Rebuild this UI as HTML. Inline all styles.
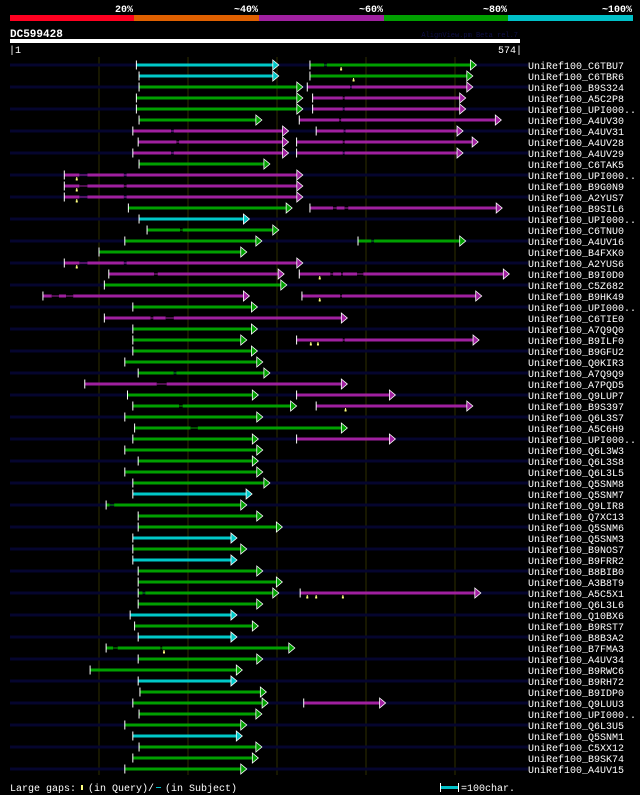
<!DOCTYPE html>
<html><head><meta charset="utf-8"><style>
html,body{margin:0;padding:0;background:#000;}
svg{display:block;}
text{font-family:"Liberation Mono","DejaVu Sans Mono",monospace;}
</style></head><body>
<svg id="chart" width="640" height="795" viewBox="0 0 640 795" xmlns="http://www.w3.org/2000/svg">
<rect x="0" y="0" width="640" height="795" fill="#000"/>
<g>
<rect x="10" y="15" width="124" height="6" fill="#ff0020"/>
<rect x="134" y="15" width="125" height="6" fill="#e06000"/>
<rect x="259" y="15" width="125" height="6" fill="#a020a0"/>
<rect x="384" y="15" width="124" height="6" fill="#00a000"/>
<rect x="508" y="15" width="125" height="6" fill="#00c0c8"/>
<text x="133" y="12" fill="#fff" font-size="10" font-weight="bold" text-anchor="end">20%</text>
<text x="258" y="12" fill="#fff" font-size="10" font-weight="bold" text-anchor="end">~40%</text>
<text x="383" y="12" fill="#fff" font-size="10" font-weight="bold" text-anchor="end">~60%</text>
<text x="507" y="12" fill="#fff" font-size="10" font-weight="bold" text-anchor="end">~80%</text>
<text x="632" y="12" fill="#fff" font-size="10" font-weight="bold" text-anchor="end">~100%</text>
</g>
<text x="10" y="37" fill="#fff" font-size="11" font-weight="bold">DC599428</text>
<text x="518" y="37" fill="#101048" font-size="7" text-anchor="end">AlignView.pm Beta rel.7</text>
<rect x="10" y="39" width="510" height="4" fill="#fff"/>
<text x="9" y="53" fill="#fff" font-size="10">|1</text>
<text x="522" y="53" fill="#fff" font-size="10" text-anchor="end">574|</text>
<g id="grid"></g>
<g id="rows"></g>
<g>
<text x="10" y="791" fill="#fff" font-size="10">Large gaps:</text>
<rect x="81" y="785" width="2" height="5" fill="#ffff80"/>
<text x="88" y="791" fill="#fff" font-size="10">(in Query)/</text>
<rect x="156" y="787" width="5" height="1" fill="#00c0c8"/>
<text x="165" y="791" fill="#fff" font-size="10">(in Subject)</text>
<rect x="441" y="786" width="17" height="3" fill="#00c0c8"/>
<rect x="440" y="783" width="1" height="9" fill="#fff"/>
<rect x="458" y="783" width="1" height="9" fill="#fff"/>
<text x="461" y="791" fill="#fff" font-size="10">=100char.</text>
</g>
</svg>
<script>
const queryLength = 574;
const gridTicks = [100, 200, 300, 400, 500];
const rowNames = ["UniRef100_C6TBU7","UniRef100_C6TBR6","UniRef100_B9S324","UniRef100_A5C2P8","UniRef100_UPI000..","UniRef100_A4UV30","UniRef100_A4UV31","UniRef100_A4UV28","UniRef100_A4UV29","UniRef100_C6TAK5","UniRef100_UPI000..","UniRef100_B9G0N9","UniRef100_A2YUS7","UniRef100_B9SIL6","UniRef100_UPI000..","UniRef100_C6TNU0","UniRef100_A4UV16","UniRef100_B4FXK0","UniRef100_A2YUS6","UniRef100_B9I0D0","UniRef100_C5Z682","UniRef100_B9HK49","UniRef100_UPI000..","UniRef100_C6TIE0","UniRef100_A7Q9Q0","UniRef100_B9ILF0","UniRef100_B9GFU2","UniRef100_Q0KIR3","UniRef100_A7Q9Q9","UniRef100_A7PQD5","UniRef100_Q9LUP7","UniRef100_B9S397","UniRef100_Q6L3S7","UniRef100_A5C6H9","UniRef100_UPI000..","UniRef100_Q6L3W3","UniRef100_Q6L3S8","UniRef100_Q6L3L5","UniRef100_Q5SNM8","UniRef100_Q5SNM7","UniRef100_Q9LIR8","UniRef100_Q7XC13","UniRef100_Q5SNM6","UniRef100_Q5SNM3","UniRef100_B9NOS7","UniRef100_B9FRR2","UniRef100_B8BIB0","UniRef100_A3B8T9","UniRef100_A5C5X1","UniRef100_Q6L3L6","UniRef100_Q10BX6","UniRef100_B9RST7","UniRef100_B8B3A2","UniRef100_B7FMA3","UniRef100_A4UV34","UniRef100_B9RWC6","UniRef100_B9RH72","UniRef100_B9IDP0","UniRef100_Q9LUU3","UniRef100_UPI000..","UniRef100_Q6L3U5","UniRef100_Q5SNM1","UniRef100_C5XX12","UniRef100_B9SK74","UniRef100_A4UV15"];
// hits: [row, start, end, scoreClass]  (c=cyan ~100%, g=green ~80%, p=purple ~60%)
const hits = [
[0,143,303,"c"],[0,338,525,"g"],
[1,146,303,"c"],[1,338,521,"g"],
[2,146,330,"g"],[2,335,521,"p"],
[3,143,330,"g"],[3,341,513,"p"],
[4,143,330,"g"],[4,341,513,"p"],
[5,146,284,"g"],[5,326,553,"p"],
[6,139,314,"p"],[6,345,510,"p"],
[7,145,314,"p"],[7,323,527,"p"],
[8,139,314,"p"],[8,323,510,"p"],
[9,146,293,"g"],
[10,62,330,"p"],[11,62,330,"p"],[12,62,330,"p"],
[13,134,318,"g"],[13,338,554,"p"],
[14,146,270,"c"],
[15,155,303,"g"],
[16,130,284,"g"],[16,392,513,"g"],
[17,101,267,"g"],
[18,62,330,"p"],
[19,112,309,"p"],[19,326,562,"p"],
[20,107,312,"g"],
[21,38,270,"p"],[21,329,531,"p"],
[22,139,279,"g"],
[23,107,380,"p"],
[24,139,279,"g"],
[25,139,267,"g"],[25,323,528,"p"],
[26,139,279,"g"],
[27,130,285,"g"],
[28,145,293,"g"],
[29,85,380,"p"],
[30,133,280,"g"],[30,323,434,"p"],
[31,139,323,"g"],[31,345,521,"p"],
[32,130,285,"g"],
[33,141,380,"g"],
[34,139,280,"g"],[34,323,434,"p"],
[35,130,285,"g"],
[36,145,280,"g"],
[37,130,285,"g"],
[38,139,293,"g"],
[39,139,273,"c"],
[40,109,267,"g"],
[41,145,285,"g"],
[42,145,307,"g"],
[43,139,256,"c"],
[44,139,267,"g"],
[45,139,256,"c"],
[46,145,285,"g"],
[47,145,307,"g"],
[48,145,303,"g"],[48,327,530,"p"],
[49,145,285,"g"],
[50,136,256,"c"],
[51,141,280,"g"],
[52,145,256,"c"],
[53,109,321,"g"],
[54,145,285,"g"],
[55,91,262,"g"],
[56,145,256,"c"],
[57,147,289,"g"],
[58,139,291,"g"],[58,331,423,"p"],
[59,146,284,"g"],
[60,130,267,"g"],
[61,139,262,"c"],
[62,146,284,"g"],
[63,139,280,"g"],
[64,130,267,"g"]
];
// subject gaps: [row, from, to]
const subjectGaps = [
[0,354,357],[2,383,385],[3,375,377],[4,375,377],[5,371,373],
[6,182,185],[6,376,378],[7,188,191],[7,375,377],[8,182,185],[8,375,377],
[10,79,88],[10,129,132],[11,79,88],[11,129,132],[12,79,88],[12,129,132],
[13,364,368],[13,377,381],[15,192,195],[16,407,410],
[18,79,88],[18,129,132],
[19,163,167],[19,361,364],[19,373,375],[19,391,398],
[21,48,56],[21,64,72],[21,372,374],
[23,159,162],[23,176,185],[25,375,377],[28,185,188],[29,166,177],
[31,191,195],[33,204,212],[40,113,118],[48,150,153],
[53,117,122],[53,170,172]
];
// query gaps (yellow markers): [row, position]
const queryGaps = [
[0,373],[1,387],[10,76],[11,76],[12,76],[18,76],[19,349],[21,349],
[25,339],[25,347],[31,378],[48,335],[48,345],[48,375],[53,174]
];
const colorMap = {c:"#00c8c8", g:"#00a000", p:"#a020a0"};

const NS = "http://www.w3.org/2000/svg";
const X0 = 10, X1 = 520, Y0 = 65, ROWH = 11;
function xScale(r){ return X0 + (r - 1) * (X1 - X0) / (queryLength - 1); }
function yRow(i){ return Y0 + i * ROWH; }
function mk(tag, attrs, parent){
  const el = document.createElementNS(NS, tag);
  for (const k in attrs) el.setAttribute(k, attrs[k]);
  parent.appendChild(el);
  return el;
}
const rowsG = document.getElementById("rows");
const gridG = document.getElementById("grid");

// navy background bars for alternating rows
rowNames.forEach(function(n, i){
  if (i % 2 === 0) {
    const bg = mk("rect", {x: X0, y: yRow(i) - 1.5, width: 518, height: 3, fill: "#05052e"}, rowsG);
    
    
  }
});
// grid lines
gridTicks.forEach(function(t){
  const ln = mk("rect", {x: Math.round(xScale(t + 1)) - 0.5, y: 57, width: 1, height: 718, fill: "#2e2e00"}, gridG);
  
  
});
// names
rowNames.forEach(function(n, i){
  const t = mk("text", {x: 528, y: yRow(i) + 4, fill: "#fff", "font-size": 10}, rowsG);
  t.textContent = n;
  
  
});
// hits
hits.forEach(function(h){
  const row = h[0], y = yRow(row), col = colorMap[h[3]];
  const xs = xScale(h[1]), xe = xScale(h[2]);
  const g = mk("g", {}, rowsG);
  
  
  const gaps = subjectGaps.filter(function(s){ return s[0] === row && s[1] >= h[1] && s[2] <= h[2]; })
    .sort(function(a,b){ return a[1]-b[1]; });
  let cur = xs;
  gaps.forEach(function(s){
    const a = xScale(s[1]), b = xScale(s[2]);
    mk("rect", {x: cur, y: y - 1.5, width: Math.max(0, a - cur), height: 3, fill: col}, g);
    mk("rect", {x: a, y: y - 1.5, width: b - a, height: 3, fill: row % 2 === 0 ? "#05052e" : "#000"}, g);
    mk("rect", {x: a, y: y - 0.5, width: b - a, height: 1, fill: col}, g);
    cur = b;
  });
  mk("rect", {x: cur, y: y - 1.5, width: Math.max(0, xe - 5 - cur), height: 3, fill: col}, g);
  mk("polygon", {points: (xe-6)+","+(y-5)+" "+xe+","+y+" "+(xe-6)+","+(y+5), fill: col, stroke: "#fff", "stroke-width": 0.8}, g);
  mk("rect", {x: xs - 0.5, y: y - 4.5, width: 1, height: 9, fill: "#fff"}, g);
});
// query gap markers
queryGaps.forEach(function(q){
  const x = xScale(q[1]), y = yRow(q[0]);
  const m = mk("g", {}, rowsG);
  
  
  mk("rect", {x: x - 0.5, y: y + 2, width: 1, height: 2, fill: "#ffff80"}, m);
  mk("rect", {x: x - 1, y: y + 3.5, width: 2, height: 2, fill: "#ffff80"}, m);
});
</script>
</body></html>
